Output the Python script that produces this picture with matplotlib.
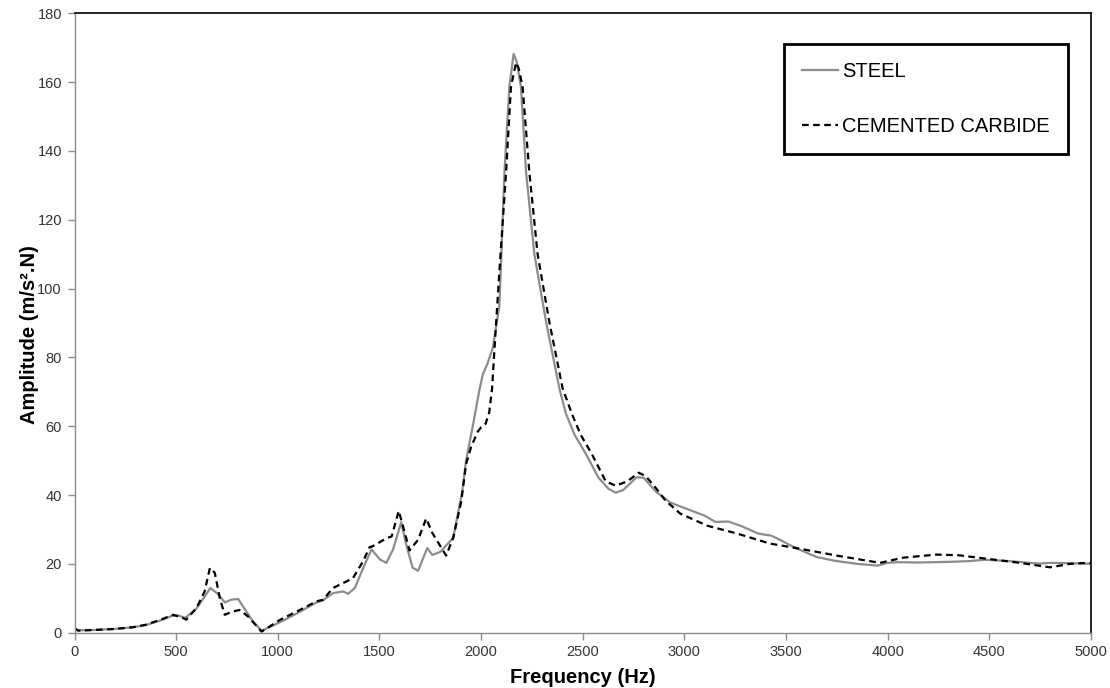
import matplotlib
matplotlib.use("Agg")
import matplotlib.pyplot as plt

plt.rcParams['font.family'] = ['Liberation Sans', 'DejaVu Sans']

steel_freq = [0, 20, 100, 200, 290, 350, 420, 480, 510, 545, 600, 640, 668, 700, 740, 772, 805, 846, 879, 920,
              960, 1026, 1100, 1190, 1220, 1272, 1321, 1346, 1379, 1420, 1461, 1502, 1534, 1567, 1607, 1630, 1663,
              1690, 1735, 1760, 1800, 1863, 1907, 1926, 1959, 1990, 2008, 2030, 2057, 2090, 2115, 2139, 2160, 2175,
              2196, 2221, 2262, 2319, 2385, 2417, 2460, 2515, 2578, 2627, 2662, 2700, 2765, 2800, 2860, 2931, 3020,
              3100, 3152, 3216, 3280, 3363, 3427, 3470, 3544, 3650, 3740, 3850, 3951, 4000, 4050, 4150, 4309, 4400,
              4476, 4600, 4700, 4750, 4800, 4900, 5000]
steel_amp = [1.2, 0.7, 0.8, 1.1, 1.6, 2.2, 3.5, 4.9, 5.0, 4.3, 7.0, 10.5, 13.0, 11.5, 8.8, 9.6, 9.8, 6.1, 3.2, 0.6,
             1.6, 3.5, 5.8, 8.8, 9.3, 11.5, 12.0, 11.3, 13.0, 18.8, 24.2, 21.3, 20.3, 24.2, 32.1, 26.0, 18.9,
             18.0, 24.6, 22.6, 23.5, 27.6, 41.0, 50.0, 60.0, 70.0, 75.0, 78.0, 82.6, 95.0, 134.0, 158.7, 168.2, 166.0,
             158.7, 134.0, 110.0, 90.5, 71.0, 63.7, 57.5, 52.0, 45.0, 41.8, 40.7, 41.5, 45.2, 45.0, 41.0, 37.8,
             35.8, 34.0, 32.2, 32.3, 31.0, 28.8, 28.2, 27.0, 24.7, 22.0, 20.9, 20.0, 19.5, 20.3, 20.5, 20.4, 20.6,
             20.8, 21.2, 20.8, 20.3, 20.1, 20.3, 20.2, 20.0]

carbide_freq = [0, 18, 100, 200, 288, 350, 420, 485, 526, 550, 600, 640, 666, 690, 715, 739, 780, 813, 854, 920,
                1010, 1108, 1190, 1223, 1272, 1338, 1370, 1420, 1451, 1469, 1533, 1560, 1595, 1620, 1648, 1690, 1730,
                1760, 1795, 1828, 1863, 1902, 1926, 1951, 1983, 2000, 2022, 2040, 2054, 2065, 2090, 2123, 2147, 2172,
                2185, 2204, 2237, 2278, 2335, 2401, 2446, 2490, 2544, 2613, 2662, 2720, 2775, 2810, 2860, 2907, 2980,
                3112, 3260, 3421, 3568, 3750, 3962, 4076, 4240, 4350, 4486, 4650, 4798, 4897, 4950, 5000]
carbide_amp = [1.3, 0.6, 0.8, 1.1, 1.6, 2.3, 3.7, 5.2, 4.5, 3.8, 7.2, 12.0, 18.8, 17.4, 10.0, 5.2, 6.2, 6.6, 4.7, 0.3,
               3.7, 6.6, 9.1, 9.6, 13.0, 14.9, 15.9, 20.8, 24.8, 25.2, 27.4, 28.0, 35.4, 30.0, 23.9, 27.0, 33.2,
               29.0, 25.6, 22.4, 27.6, 38.0, 49.0, 54.0, 58.4, 59.7, 60.7, 64.0, 71.0, 81.7, 105.0, 134.0, 158.7, 165.7,
               164.0, 158.7, 134.0, 110.0, 90.5, 71.0, 63.7, 57.5, 52.0, 44.0, 42.7, 44.0, 46.5, 45.5, 42.0, 38.4,
               34.6, 31.1, 28.8, 25.9, 24.4, 22.4, 20.3, 21.8, 22.7, 22.5, 21.5, 20.3, 19.0, 20.0, 20.2, 20.3]

x_ticks = [0, 500, 1000, 1500, 2000, 2500, 3000, 3500, 4000, 4500, 5000]
y_ticks = [0, 20, 40, 60, 80, 100, 120, 140, 160, 180]

W, H = 1110, 688
fig = plt.figure(figsize=(W / 100, H / 100), dpi=100)
ax = fig.add_axes([74.5 / W, (H - 632.7) / H, (1091 - 74.5) / W, (632.7 - 13.3) / H])

ax.plot(steel_freq, steel_amp, color='#8c8c8c', lw=1.6, label='STEEL')
ax.plot(carbide_freq, carbide_amp, color='black', lw=1.6, linestyle=(0, (3, 2)), label='CEMENTED CARBIDE')

ax.set_xlim(0, 5000)
ax.set_ylim(0, 180)
ax.set_xticks(x_ticks)
ax.set_yticks(y_ticks)
ax.tick_params(axis='both', direction='out', length=5, width=1, color='#8c8c8c',
               labelsize=10.5, labelcolor='#333333', pad=4)

for side in ['left', 'bottom']:
    ax.spines[side].set_color('#8c8c8c')
    ax.spines[side].set_linewidth(1)
for side in ['top', 'right']:
    ax.spines[side].set_color('black')
    ax.spines[side].set_linewidth(1.2)

ax.set_xlabel('Frequency (Hz)', fontsize=14.5, fontweight='bold', labelpad=6)
ax.set_ylabel('Amplitude (m/s².N)', fontsize=14.5, fontweight='bold')
ax.yaxis.set_label_coords((30 - 74.5) / 1016.5, (632.7 - 335) / 619.4)
ax.yaxis.label.set_va('center')

leg = ax.legend(loc='upper left', bbox_to_anchor=(0.698, 0.950), borderaxespad=0,
                fontsize=14.5, frameon=True, fancybox=False, handlelength=1.8,
                handletextpad=0.2, labelspacing=1.75, borderpad=0.9)
frame = leg.get_frame()
frame.set_edgecolor('black')
frame.set_linewidth(2)
frame.set_alpha(1)

fig.savefig('out.png', dpi=100)
